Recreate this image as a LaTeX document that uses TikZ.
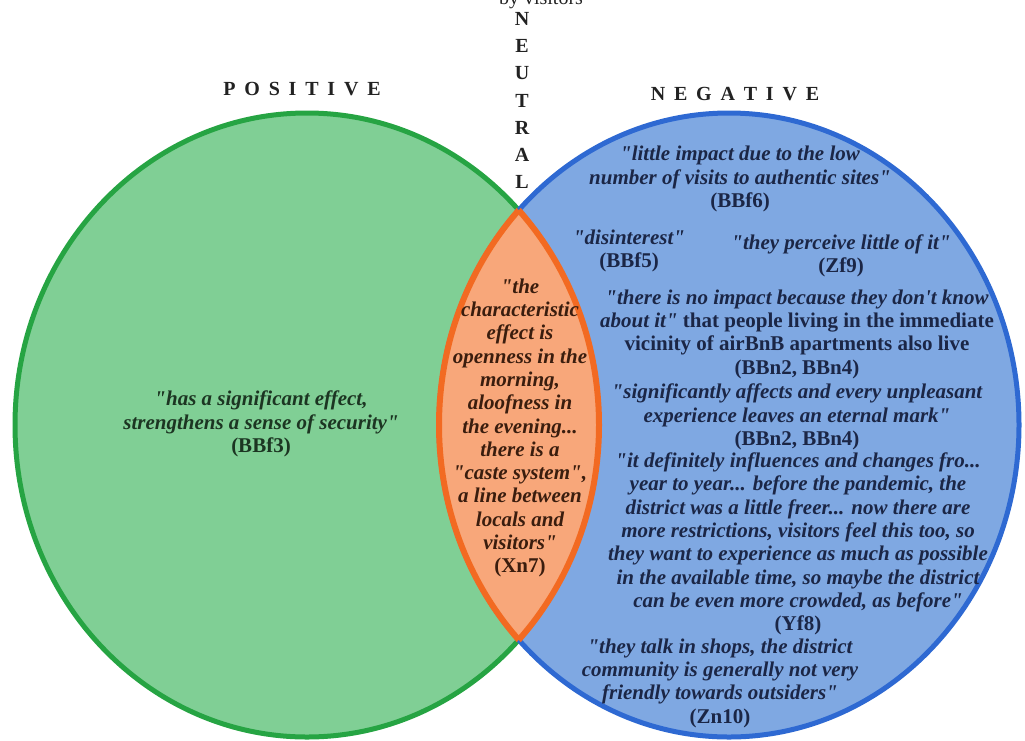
\documentclass[tikz,border=0pt]{standalone}
\usepackage{fontspec}
\setmainfont{Liberation Serif}[Ligatures=TeXOff]
\definecolor{gfill}{HTML}{80CF95}
\definecolor{gline}{HTML}{26A443}
\definecolor{bfill}{HTML}{7FA8E2}
\definecolor{bline}{HTML}{2E69D2}
\definecolor{ofill}{HTML}{F8A77A}
\definecolor{oline}{HTML}{F26A22}
\definecolor{gtext}{HTML}{1C3522}
\definecolor{btext}{HTML}{1B2646}
\definecolor{otext}{HTML}{3A1D0E}
\definecolor{htext}{HTML}{222222}
\tikzset{
  quote/.style={align=center, inner sep=0pt, font=\fontsize{21}{23.3}\selectfont\bfseries},
  head/.style={inner sep=0pt, text=htext, font=\fontsize{20}{22}\selectfont\bfseries},
}
\newcommand{\gr}{\kern8.8pt}
\begin{document}
\begin{tikzpicture}[x=1pt,y=-1pt]
\useasboundingbox (0,0) rectangle (1025,740);
\def\green{(307,425) ellipse [x radius=292, y radius=312]}
\def\blue{(729,425) ellipse [x radius=290, y radius=312]}
% circles
\fill[gfill] \green;
\draw[gline, line width=5pt] \green;
\fill[bfill] \blue;
\draw[bline, line width=5pt] \blue;
% lens
\begin{scope}
  \clip \green;
  \fill[ofill] \blue;
  \draw[oline, line width=6pt] \blue;
\end{scope}
\begin{scope}
  \clip \blue;
  \draw[oline, line width=6pt] \green;
\end{scope}
% title fragment
\node[anchor=base, inner sep=0pt, text=htext, font=\fontsize{20}{22}\selectfont] (title) at (541,4) {by visitors};
% headings
\node[head] (pos) at (302,89) {P\gr O\gr S\gr I\gr T\gr I\gr V\gr E};
\node[head] (neg) at (735,94) {N\gr E\gr G\gr A\gr T\gr I\gr V\gr E};
\node[head] (n1) at (522,19) {N};
\node[head] (n2) at (522,46) {E};
\node[head] (n3) at (522,73) {U};
\node[head] (n4) at (522,101) {T};
\node[head] (n5) at (522,128) {R};
\node[head] (n6) at (522,155) {A};
\node[head] (n7) at (522,182) {L};
% positive
\node[quote, text=gtext] (q1) at (261,424) {\itshape "has a significant effect,\\ \itshape strengthens a sense of security"\\ (BBf3)};
% neutral
\node[quote, text=otext] (q2) at (520,428) {\itshape "the\\ \itshape characteristic\\ \itshape effect is\\ \itshape openness in the\\ \itshape morning,\\ \itshape aloofness in\\ \itshape the evening...\\ \itshape there is a\\ \itshape "caste system",\\ \itshape a line between\\ \itshape locals and\\ \itshape visitors"\\ (Xn7)};
% negative
\node[quote, text=btext] (q3) at (740,179) {\itshape "little impact due to the low\\ \itshape number of visits to authentic sites"\\ (BBf6)};
\node[quote, text=btext] (q4) at (629,251) {\itshape "disinterest"\\ (BBf5)};
\node[quote, text=btext] (q5) at (841,256) {\itshape "they perceive little of it"\\ (Zf9)};
\node[quote, text=btext] (q6) at (797,334) {\itshape "there is no impact because they don't know\\ {\itshape about it"} that people living in the immediate\\ vicinity of airBnB apartments also live\\ (BBn2, BBn4)};
\node[quote, text=btext] (q7) at (797,417) {\itshape "significantly affects and every unpleasant\\ \itshape experience leaves an eternal mark"\\ (BBn2, BBn4)};
\node[quote, text=btext] (q8) at (798,544) {\itshape "it definitely influences and changes fro...\\ \itshape year to year... before the pandemic, the\\ \itshape district was a little freer... now there are\\ \itshape more restrictions, visitors feel this too, so\\ \itshape they want to experience as much as possible\\ \itshape in the available time, so maybe the district\\ \itshape can be even more crowded, as before"\\ (Yf8)};
\node[quote, text=btext] (q9) at (720,683) {\itshape "they talk in shops, the district\\ \itshape community is generally not very\\ \itshape friendly towards outsiders"\\ (Zn10)};
\end{tikzpicture}
\end{document}
